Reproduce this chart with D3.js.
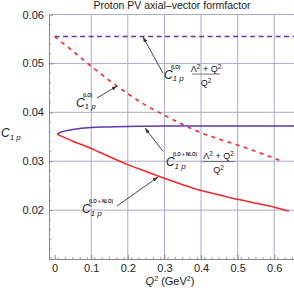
<!DOCTYPE html>
<html>
<head>
<meta charset="utf-8">
<script src="https://cdn.jsdelivr.net/npm/d3@7"></script>
<style>
  body { margin: 0; background: #fff; }
  svg text { font-family: "Liberation Sans", Arial, sans-serif; fill: #222; }
</style>
</head>
<body>
<div id="chart"></div>
<script>
// curve values (Q^2 in GeV^2)
var loScaledQ = [0, 0.654];
var loScaledC = [0.0555, 0.0555];

var loQ = [0, 0.05, 0.1, 0.15, 0.2, 0.25, 0.3, 0.35, 0.4, 0.45, 0.5, 0.55, 0.6, 0.62];
var loC = [0.0555, 0.0525, 0.0494, 0.0465, 0.0438, 0.0414, 0.0394, 0.0375, 0.0358, 0.0345, 0.0333, 0.0320, 0.0306, 0.0300];

var nloScaledQ = [0.007, 0.015, 0.03, 0.05, 0.1, 0.15, 0.2, 0.3, 0.4, 0.5, 0.6, 0.654];
var nloScaledC = [0.0355, 0.0359, 0.0362, 0.0365, 0.0369, 0.0370, 0.0371, 0.0372, 0.0372, 0.0372, 0.0372, 0.0372];

var nloQ = [0.007, 0.05, 0.1, 0.15, 0.2, 0.25, 0.3, 0.35, 0.4, 0.45, 0.5, 0.55, 0.6, 0.64];
var nloC = [0.0355, 0.0341, 0.0326, 0.0309, 0.0293, 0.0279, 0.0265, 0.0252, 0.0240, 0.0231, 0.0222, 0.0214, 0.0206, 0.0198];

var xTicks = [0, 0.1, 0.2, 0.3, 0.4, 0.5, 0.6];
var xTickLabels = ['0', '0.1', '0.2', '0.3', '0.4', '0.5', '0.6'];
var yTicks = [0.02, 0.03, 0.04, 0.05, 0.06];
var yTickLabels = ['0.02', '0.03', '0.04', '0.05', '0.06'];

var width = 294, height = 288;
var gridColor = '#aaaacf', axisColor = '#8a8a8a';
var red = '#f42a2a', purple = '#6236b4';

var svg = d3.select('#chart').append('svg')
    .attr('width', width)
    .attr('height', height);

var x = d3.scaleLinear().domain([-0.0153, 0.654]).range([49, 294]);
var y = d3.scaleLinear().domain([0.01, 0.06]).range([259, 14.5]);

//title
svg.append('text')
    .attr('x', 172).attr('y', 9)
    .attr('text-anchor', 'middle')
    .style('font-size', '10.5px')
    .text('Proton PV axial\u2013vector  formfactor');

//grid
svg.append('g').selectAll('line')
    .data(xTicks.slice(1))
  .enter().append('line')
    .attr('x1', function(d){ return x(d); })
    .attr('x2', function(d){ return x(d); })
    .attr('y1', y(0.01)).attr('y2', y(0.06))
    .attr('stroke', gridColor).attr('stroke-width', 1);

svg.append('g').selectAll('line')
    .data(yTicks)
  .enter().append('line')
    .attr('x1', x.range()[0]).attr('x2', x.range()[1])
    .attr('y1', function(d){ return y(d); })
    .attr('y2', function(d){ return y(d); })
    .attr('stroke', gridColor).attr('stroke-width', 1);

//axes (frame left + bottom)
var xAxis = d3.axisBottom(x)
    .tickValues(xTicks)
    .tickSizeInner(-4).tickSizeOuter(0)
    .tickPadding(5)
    .tickFormat(function(d, i){ return xTickLabels[i]; });

var gx = svg.append('g')
    .attr('transform', 'translate(0,' + y(0.01) + ')')
    .call(xAxis);

var yAxis = d3.axisLeft(y)
    .tickValues(yTicks)
    .tickSizeInner(-4).tickSizeOuter(0)
    .tickPadding(5)
    .tickFormat(function(d, i){ return yTickLabels[i]; });

var gy = svg.append('g')
    .attr('transform', 'translate(' + x.range()[0] + ',0)')
    .call(yAxis);

[gx, gy].forEach(function(g){
  g.select('.domain').attr('stroke', axisColor);
  g.selectAll('.tick line').attr('stroke', axisColor);
  g.selectAll('.tick text')
    .style('font-family', '"Liberation Sans", Arial, sans-serif')
    .style('font-size', '11px').attr('fill', '#222');
});

//minor ticks
var xMinor = d3.range(-0.01, 0.654, 0.02).filter(function(d){ return Math.abs(d * 10 - Math.round(d * 10)) > 1e-6; });
svg.append('g').selectAll('line')
    .data(xMinor)
  .enter().append('line')
    .attr('x1', function(d){ return x(d); })
    .attr('x2', function(d){ return x(d); })
    .attr('y1', y(0.01)).attr('y2', y(0.01) - 2)
    .attr('stroke', axisColor).attr('stroke-width', 0.8);

var yMinor = d3.range(0.012, 0.06, 0.002).filter(function(d){ return Math.abs(d * 100 - Math.round(d * 100)) > 1e-6; });
svg.append('g').selectAll('line')
    .data(yMinor)
  .enter().append('line')
    .attr('x1', x.range()[0]).attr('x2', x.range()[0] + 2)
    .attr('y1', function(d){ return y(d); })
    .attr('y2', function(d){ return y(d); })
    .attr('stroke', axisColor).attr('stroke-width', 0.8);

//axis titles
var xt = svg.append('text')
    .attr('x', 170).attr('y', 285)
    .attr('text-anchor', 'middle')
    .style('font-size', '11px');
xt.append('tspan').style('font-style', 'italic').text('Q');
xt.append('tspan').attr('dy', -4).style('font-size', '7px').text('2');
xt.append('tspan').attr('dy', 4).text(' (GeV');
xt.append('tspan').attr('dy', -4).style('font-size', '7px').text('2');
xt.append('tspan').attr('dy', 4).text(')');

var yt = svg.append('text')
    .attr('x', 1).attr('y', 137)
    .style('font-size', '12px');
yt.append('tspan').style('font-style', 'italic').text('C');
yt.append('tspan').attr('dy', 3).style('font-size', '8px').style('font-style', 'italic').text('1 p');

//curves
function series(qs, cs){ return qs.map(function(q, i){ return [q, cs[i]]; }); }

var line = d3.line()
    .x(function(d){ return x(d[0]); })
    .y(function(d){ return y(d[1]); })
    .curve(d3.curveMonotoneX);

svg.append('path')
    .datum(series(loScaledQ, loScaledC))
    .attr('d', line)
    .attr('fill', 'none').attr('stroke', purple)
    .attr('stroke-width', 1.4).attr('stroke-dasharray', '5,3.5');

svg.append('path')
    .datum(series(loQ, loC))
    .attr('d', line)
    .attr('fill', 'none').attr('stroke', red)
    .attr('stroke-width', 1.6).attr('stroke-dasharray', '4,4.5');

svg.append('path')
    .datum(series(nloScaledQ, nloScaledC))
    .attr('d', line)
    .attr('fill', 'none').attr('stroke', purple)
    .attr('stroke-width', 1.5);

svg.append('path')
    .datum(series(nloQ, nloC))
    .attr('d', line)
    .attr('fill', 'none').attr('stroke', red)
    .attr('stroke-width', 1.6);

//annotations
svg.append('defs').append('marker')
    .attr('id', 'arrow')
    .attr('viewBox', '0 0 10 10')
    .attr('refX', 10).attr('refY', 5)
    .attr('markerWidth', 6).attr('markerHeight', 6)
    .attr('orient', 'auto')
  .append('path')
    .attr('d', 'M0,1.5 L10,5 L0,8.5 Z')
    .attr('fill', '#333');

var notes = [
  {tip: [0.2415, 0.0554], tail: [0.2962, 0.0480], at: [0.2989, 0.0469], sup: '(LO)', frac: true},
  {tip: [0.1705, 0.04538], tail: [0.1158, 0.04292], at: [0.0585, 0.0411], sup: '(LO)', frac: false},
  {tip: [0.247, 0.03679], tail: [0.2962, 0.0320], at: [0.3044, 0.0290], sup: '(LO + NLO)', frac: true},
  {tip: [0.2825, 0.02677], tail: [0.1705, 0.02084], at: [0.0749, 0.0194], sup: '(LO + NLO)', frac: false}
];

notes.forEach(function(n){
  svg.append('line')
      .attr('x1', x(n.tail[0])).attr('y1', y(n.tail[1]))
      .attr('x2', x(n.tip[0])).attr('y2', y(n.tip[1]))
      .attr('stroke', '#333').attr('stroke-width', 0.9)
      .attr('marker-end', 'url(#arrow)');

  var px = x(n.at[0]), py = y(n.at[1]);
  svg.append('text')
      .attr('x', px).attr('y', py)
      .style('font-size', '12px').style('font-style', 'italic')
      .text('C');
  svg.append('text')
      .attr('x', px + 8.5).attr('y', py + 2.5)
      .style('font-size', '8px').style('font-style', 'italic')
      .text('1 p');
  svg.append('text')
      .attr('x', px + 7).attr('y', py - 10)
      .style('font-size', '4.5px').style('font-weight', 'bold')
      .text(n.sup);

  if (n.frac) {
    var fx = px + (n.sup.length > 4 ? 36 : 28), w = n.sup.length > 4 ? 33 : 28;
    svg.append('line')
        .attr('x1', fx).attr('x2', fx + w)
        .attr('y1', py - 4.5).attr('y2', py - 4.5)
        .attr('stroke', '#555').attr('stroke-width', 0.8);
    var num = svg.append('text')
        .attr('x', fx + w / 2).attr('y', py - 7)
        .attr('text-anchor', 'middle')
        .style('font-size', '9px');
    num.append('tspan').text('\u039B');
    num.append('tspan').attr('dy', -3).style('font-size', '6.5px').text('2');
    num.append('tspan').attr('dy', 3).text(' + Q');
    num.append('tspan').attr('dy', -3).style('font-size', '6.5px').text('2');
    var den = svg.append('text')
        .attr('x', fx + w / 2).attr('y', py + 7)
        .attr('text-anchor', 'middle')
        .style('font-size', '9px');
    den.append('tspan').text('Q');
    den.append('tspan').attr('dy', -3).style('font-size', '6.5px').text('2');
  }
});
</script>
</body>
</html>
